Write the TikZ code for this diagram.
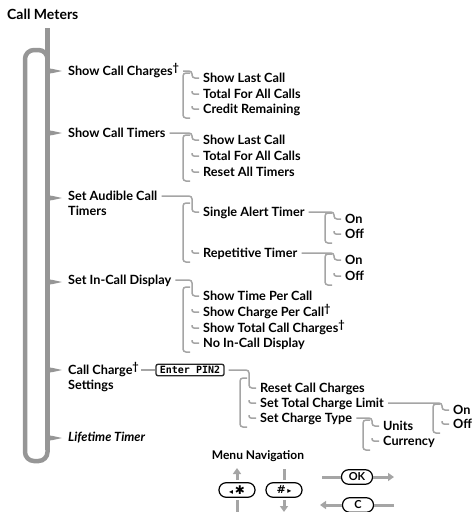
\documentclass[tikz,border=0pt]{standalone}
\usepackage{fontspec}
\setmainfont{Lato}
\newfontfamily\symfont{DejaVu Sans}
\newfontfamily\lcdfont{DejaVu Sans Mono}
\usetikzlibrary{arrows.meta}
\definecolor{bargray}{RGB}{150,150,150}
\definecolor{linkgray}{RGB}{165,165,165}
\newcommand{\dg}{\raisebox{4pt}{\fontsize{11}{11}\selectfont\bfseries †}}
\begin{document}
\begin{tikzpicture}[x=1pt, y=-1pt,
  item/.style={anchor=west, inner sep=0pt, text height=9pt, text depth=0pt,
    font=\bfseries\fontsize{12.7}{14}\selectfont},
  link/.style={draw=linkgray, line width=1.5pt, rounded corners=3pt},
  bar/.style={draw=bargray, line width=4.5pt},
  key/.style={draw, line width=1.2pt, rounded corners=7pt, fill=white,
    inner sep=0pt, minimum height=14.5pt},
  nav/.style={draw=linkgray, line width=3pt},
  navarrow/.style={nav, -{Triangle[length=6pt,width=8pt]}}]
  \useasboundingbox (0,0) rectangle (475,512);
  % title
  \node[item, font=\bfseries\fontsize{14}{16}\selectfont] (title) at (7,15) {Call Meters};
  % main bar and loop
  \draw[bar] (47.5,28) -- (47.5,450);
  \draw[bar, rounded corners=9pt] (47.5,66) -- (47.5,50) -- (25,50) -- (25,461)
    -- (47.5,461) -- (47.5,440);
  \foreach \y in {71,133,198,282,370,438}
    \fill[bargray] (45.25,\y-9) .. controls (45.25,\y-3) and (50,\y-2.2) .. (53,\y-2)
      -- (62,\y) -- (53,\y+2) .. controls (50,\y+2.2) and (45.25,\y+3) .. (45.25,\y+9) -- cycle;
  % first level
  \node[item] (scc) at (68,71) {Show Call Charges\dg};
  \node[item] (sct) at (68,133) {Show Call Timers};
  \node[item] (sac) at (68,196) {Set Audible Call};
  \node[item] (sact) at (68,211) {Timers};
  \node[item] (sid) at (68,280) {Set In-Call Display};
  \node[item] (ccs) at (68,370) {Call Charge\dg};
  \node[item] (ccst) at (68,385) {Settings};
  \node[item, font=\bfseries\itshape\fontsize{12.7}{14}\selectfont] (lt) at (68,437) {Lifetime Timer};
  % second level
  \node[item] (a1) at (203,78) {Show Last Call};
  \node[item] (a2) at (203,94) {Total For All Calls};
  \node[item] (a3) at (203,109) {Credit Remaining};
  \node[item] (b1) at (203,140) {Show Last Call};
  \node[item] (b2) at (203,156) {Total For All Calls};
  \node[item] (b3) at (203,172) {Reset All Timers};
  \node[item] (c1) at (203,212) {Single Alert Timer};
  \node[item] (c2) at (203,253) {Repetitive Timer};
  \node[item] (d1) at (203,296) {Show Time Per Call};
  \node[item] (d2) at (203,312) {Show Charge Per Call\dg};
  \node[item] (d3) at (203,328) {Show Total Call Charges\dg};
  \node[item] (d4) at (203,343) {No In-Call Display};
  \node[draw=black!85, line width=1.3pt, rounded corners=2pt, inner sep=1pt,
    minimum height=11.5pt, minimum width=68pt,
    font=\lcdfont\bfseries\fontsize{10}{10}\selectfont] (pin) at (190,370) {Enter PIN2};
  \node[item] (e1) at (260,388) {Reset Call Charges};
  \node[item] (e2) at (260,403) {Set Total Charge Limit};
  \node[item] (e3) at (260,418) {Set Charge Type};
  % third level
  \node[item] (c1a) at (345,219) {On};
  \node[item] (c1b) at (345,234) {Off};
  \node[item] (c2a) at (345,260) {On};
  \node[item] (c2b) at (345,276) {Off};
  \node[item] (e2a) at (453,410) {On};
  \node[item] (e2b) at (453,424) {Off};
  \node[item] (e3a) at (383,426) {Units};
  \node[item] (e3b) at (383,441) {Currency};
  % brackets
  \draw[link] ([xshift=2pt]ccs.east) -- (pin.west);
  \foreach \p/\f/\l/\t in {scc/a1/a3/5, sct/b1/b3/5, sac/c1/c2/9, c1/c1a/c1b/6,
      c2/c2a/c2b/6, sid/d1/d4/9, pin/e1/e3/10, e2/e2a/e2b/6, e3/e3a/e3b/6} {
    \draw[link] ([xshift=4pt]\p.east) -| ([xshift=-11pt]\f.west) -- ([xshift=-4pt]\f.west);
    \draw[link] ([xshift=-13pt,yshift=\t pt]\f.west) -| ([xshift=-20pt,yshift=-9pt]\l.west)
      -- ([xshift=-13pt,yshift=-9pt]\l.west);
  }
  \foreach \n in {a2,a3,b2,b3,c2,c1b,c2b,d2,d3,d4,e2,e3,e2b,e3b}
    \draw[link, rounded corners=2pt] ([xshift=-11pt,yshift=3pt]\n.west) |- ([xshift=-4pt]\n.west);
  % menu navigation
  \node[font=\bfseries\fontsize{12}{14}\selectfont] (menu) at (258,456) {Menu Navigation};
  \node[key, minimum width=36pt] (star) at (237,490)
    {\symfont{\fontsize{8}{8}\selectfont ◂}\,{\fontsize{12}{12}\selectfont ✱}};
  \node[key, minimum width=36pt] (hash) at (284,490)
    {\symfont{\fontsize{11}{11}\selectfont\bfseries \#}\,{\fontsize{8}{8}\selectfont ▸}};
  \node[key, minimum width=31pt, font=\bfseries\fontsize{11}{11}\selectfont] (ok) at (357,477) {OK};
  \node[key, minimum width=31pt, font=\bfseries\fontsize{11}{11}\selectfont] (c) at (358,505) {C};
  \coordinate (starup) at (237,468);
  \coordinate (stardn) at (237,512);
  \coordinate (hashup) at (284,469);
  \coordinate (hashdn) at (284,512);
  \coordinate (okin) at (322,477);
  \coordinate (okout) at (394,477);
  \coordinate (cin) at (394,505);
  \coordinate (cout) at (320,505);
  \draw[navarrow, shorten <=2pt] (star) -- (starup);
  \draw[nav, shorten <=2pt] (star) -- (stardn);
  \draw[nav, shorten <=2pt] (hash) -- (hashup);
  \draw[navarrow, shorten <=2pt] (hash) -- (hashdn);
  \draw[nav] (okin) -- (ok);
  \draw[navarrow] (ok) -- (okout);
  \draw[nav] (cin) -- (c);
  \draw[navarrow] (c) -- (cout);
\end{tikzpicture}
\end{document}
